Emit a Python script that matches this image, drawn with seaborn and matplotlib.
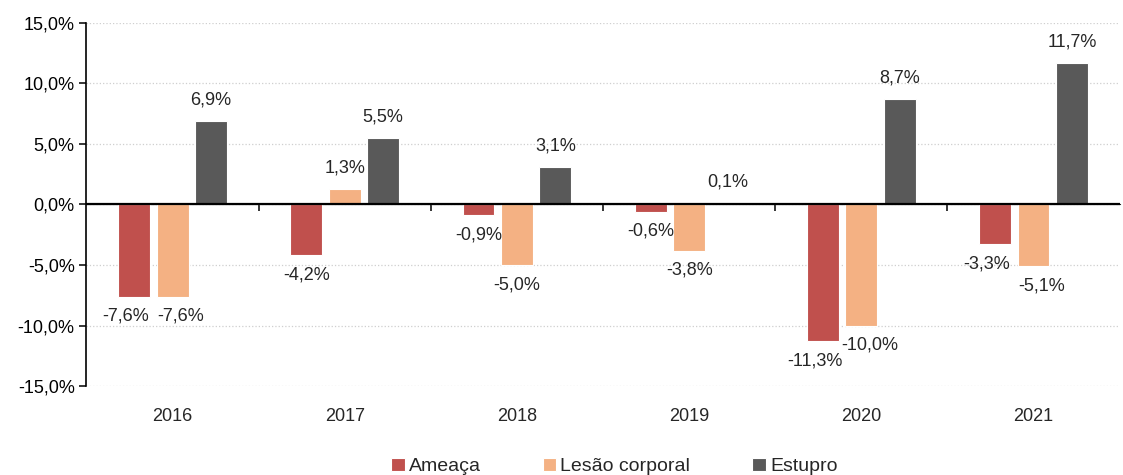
import pandas as pd
import numpy as np
import matplotlib.pyplot as plt
import seaborn as sns
from matplotlib.ticker import FuncFormatter

# ----------------- data -----------------
years = ['2016', '2017', '2018', '2019', '2020', '2021']
series = ['Ameaça', 'Lesão corporal', 'Estupro']
ameaca = [-7.6, -4.2, -0.9, -0.6, -11.3, -3.3]
lesao = [-7.6, 1.3, -5.0, -3.8, -10.0, -5.1]
estupro = [6.9, 5.5, 3.1, 0.1, 8.7, 11.7]
colors = ['#C0504D', '#F4B183', '#595959']

df = pd.DataFrame({
    'ano': years * 3,
    'tipo': [s for s in series for _ in years],
    'valor': ameaca + lesao + estupro,
})

def br(v, dec=1):
    return f"{v:.{dec}f}%".replace('.', ',')

# ----------------- plot -----------------
sns.set_style('white')
plt.rcParams['font.family'] = ['Liberation Sans', 'DejaVu Sans']
fs = 13

fig = plt.figure(figsize=(11.23, 4.75), dpi=100)
ax = fig.add_axes([0.077, 0.187, 0.92, 0.765])

sns.barplot(data=df, x='ano', y='valor', hue='tipo', hue_order=series,
            palette=colors, saturation=1, width=0.67, gap=0.17,
            edgecolor='white', linewidth=0.8, ax=ax, legend=True)

ax.set_ylim(-15, 15)
ax.set_xlim(-0.5, len(years) - 0.5)
ax.set_yticks(np.arange(-15, 16, 5))
ax.yaxis.set_major_formatter(FuncFormatter(lambda v, p: br(v)))
ax.grid(axis='y', color='#CFCFCF', linestyle=':', linewidth=0.9)
ax.set_axisbelow(True)
ax.set_xlabel('')
ax.set_ylabel('')

for s in ['top', 'right', 'bottom']:
    ax.spines[s].set_visible(False)
ax.spines['left'].set_color('black')
ax.spines['left'].set_linewidth(1.2)
ax.tick_params(axis='y', left=True, length=5, width=1.1, direction='out',
               labelsize=fs, colors='black')
ax.tick_params(axis='x', bottom=False, length=0, labelsize=fs, pad=16)

# zero line with category separator ticks
ax.axhline(0, color='black', linewidth=1.6, zorder=5)
zero = ax.secondary_xaxis(0.5)
zero.set_xticks(np.arange(0.5, len(years) - 1, 1.0), labels=[])
zero.tick_params(length=5, width=1.1, direction='in', color='black')
zero.spines['bottom'].set_visible(False)

# data labels (neighbouring negative labels of similar size are pushed apart)
for k, cont in enumerate(ax.containers):
    for i, bar in enumerate(cont):
        v = bar.get_height()
        x = bar.get_x() + bar.get_width() / 2
        dx = 0
        if k < 2 and ameaca[i] < 0 and lesao[i] < 0 and abs(ameaca[i] - lesao[i]) < 2:
            dx = -6 if k == 0 else 6
        if v >= 0:
            ax.annotate(br(v), (x, v), xytext=(dx, 9), textcoords='offset points',
                        ha='center', va='bottom', fontsize=fs)
        else:
            ax.annotate(br(v), (x, v), xytext=(dx, -8), textcoords='offset points',
                        ha='center', va='top', fontsize=fs)

handles, labels = ax.get_legend_handles_labels()
ax.get_legend().remove()
fig.legend(handles, labels, loc='center', bbox_to_anchor=(0.547, 0.018), ncol=3,
           frameon=False, fontsize=fs + 1, handlelength=0.7, handleheight=0.7,
           handletextpad=0.2, columnspacing=3.2)

fig.savefig('out.png', dpi=100)
